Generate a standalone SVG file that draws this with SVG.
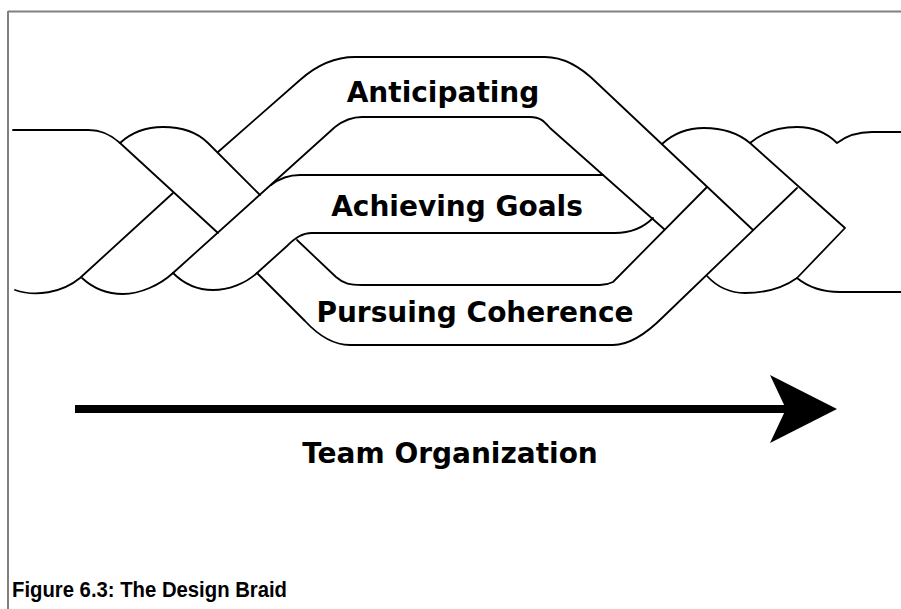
<svg xmlns="http://www.w3.org/2000/svg" width="901" height="609" viewBox="0 0 901 609">
<style>
.e{fill:none;stroke:#000;stroke-width:1.8;stroke-linejoin:round;stroke-linecap:round}
.lbl{font-family:"DejaVu Sans",Verdana,sans-serif;font-weight:bold;font-size:28px;fill:#000;text-anchor:middle}
.cap{font-family:"Liberation Sans",Arial,sans-serif;font-weight:bold;font-size:22px;fill:#000}
.frame{stroke:#808080;stroke-width:2;fill:none}
</style>
<rect width="901" height="609" fill="#fff"/>
<g id="frame">
<line class="frame" x1="8" y1="11.5" x2="901" y2="11.5"/>
<line class="frame" x1="8" y1="11" x2="8" y2="609"/>
</g>
<g id="braid-left">
<path class="e" d="M13,130 H88 C101,130 110,134 120,143 L218,233"/>
<path class="e" d="M120,143 C133,131 148,127 163,127 C180,127 196,131 208,143 L260,195"/>
<path class="e" d="M15,290 C35,297 62,293 80,278 L173,193"/>
</g>
<g id="anticipating">
<path class="e" d="M82,278 C95,290 110,294 123,294 C140,294 160,285 173,273 L335,127 C344,120 352,117 362,117 H530 C540,117 544,121 550,128 L664,229"/>
<path class="e" d="M218,152 L300,80 C318,64 335,57 355,57 H545 C565,57 582,68 597,83 L753,230"/>
<text class="lbl" x="443" y="102">Anticipating</text>
</g>
<g id="achieving-goals">
<path class="e" d="M173,273 C185,285 200,290 213,290 C228,290 245,284 257,273 L287,246 C295,238 302,233 312,233 H615 C630,233 643,228 653,218"/>
<path class="e" d="M271,185 C280,178 289,175 300,175 H603"/>
<text class="lbl" x="457" y="216">Achieving Goals</text>
</g>
<g id="pursuing-coherence">
<path class="e" d="M257,273 L305,321 C318,335 332,345 350,345 H613 C630,345 647,333 663,317 L797,188"/>
<path class="e" d="M297,240 L336,277 C344,284 350,285 362,285 H600 C606,285 609,284 613,282 L707,187"/>
<text class="lbl" x="475" y="322">Pursuing Coherence</text>
</g>
<g id="braid-right">
<path class="e" d="M707,276 C719,289 731,293 745,293 C765,293 783,288 797,278"/>
<path class="e" d="M662,144 C675,132 688,128 704,128 C722,128 738,133 750,143 L845,228 L797,278 C808,287 822,292 840,292 H901"/>
<path class="e" d="M750,143 C764,131 780,127 797,127 C814,127 828,134 837,143 C846,136 856,132 872,132 H901"/>
</g>
<g id="connectors">
<rect x="75" y="405" width="712" height="8" fill="#000"/>
<polygon points="770,375 837,409 770,443 786,409" fill="#000"/>
</g>
<g id="axis-label">
<text class="lbl" x="450" y="463">Team Organization</text>
</g>
<g id="caption">
<text class="cap" x="12" y="597" textLength="275" lengthAdjust="spacingAndGlyphs">Figure 6.3: The Design Braid</text>
</g>
</svg>
